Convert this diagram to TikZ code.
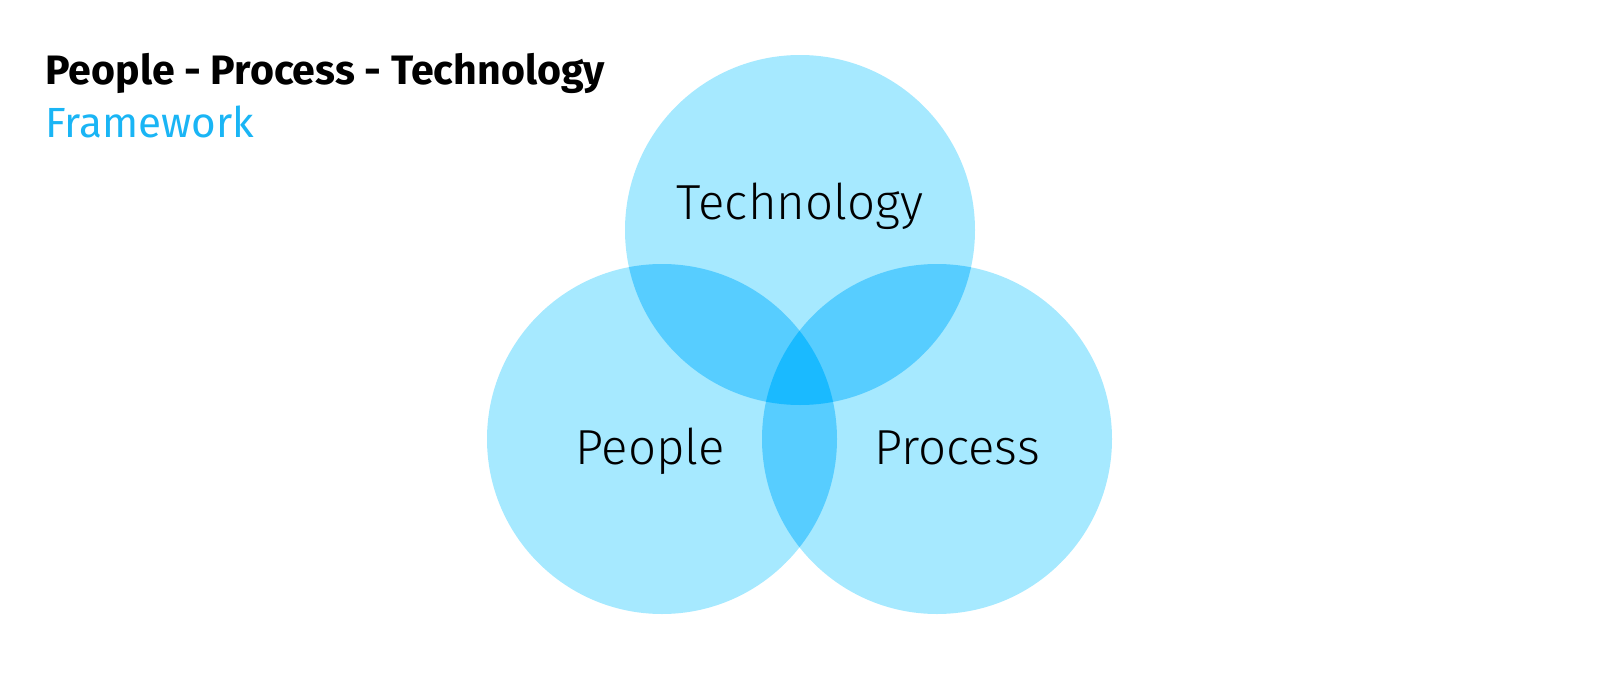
\documentclass[tikz,border=0pt]{standalone}
\usepackage{fontspec}
\setmainfont{Fira Sans}
\newfontfamily\lightfont{Fira Sans Light}
\usetikzlibrary{positioning}

\definecolor{ringlight}{HTML}{A6E9FF}
\definecolor{ringmid}{HTML}{57CDFF}
\definecolor{ringdark}{HTML}{1ABAFF}
\definecolor{titleblue}{HTML}{1AB5F5}

\tikzset{
  circlabel/.style={font=\lightfont\fontsize{28}{32}\selectfont, inner sep=0pt, anchor=base},
  titletext/.style={font=\fontsize{24}{28}\selectfont, inner sep=0pt, anchor=base west}
}

\begin{document}
\begin{tikzpicture}[x=0.02cm,y=-0.02cm]
  \useasboundingbox (0,0) rectangle (1600,700);

  %% the three rings
  \coordinate (TECH) at (800,230);
  \coordinate (PEOP) at (662,439);
  \coordinate (PROC) at (937,439);
  \def\rad{175}

  \foreach \c in {TECH,PEOP,PROC}
    \fill[ringlight] (\c) circle (\rad);

  %% pairwise overlaps
  \foreach \a/\b in {TECH/PEOP,TECH/PROC,PEOP/PROC}
  {
    \begin{scope}
      \clip (\a) circle (\rad);
      \fill[ringmid] (\b) circle (\rad);
    \end{scope}
  }

  %% middle part
  \begin{scope}
    \clip (TECH) circle (\rad);
    \clip (PEOP) circle (\rad);
    \fill[ringdark] (PROC) circle (\rad);
  \end{scope}

  %% labels
  \node[circlabel] (LTECH) at (800,219) {Technology};
  \node[circlabel] (LPEOP) at (650,464) {People};
  \node[circlabel] (LPROC) at (957,464) {Process};

  %% heading
  \node[titletext, font=\bfseries\fontsize{23.4}{28}\selectfont] (HEAD) at (45,84) {People - Process - Technology};
  \node[titletext, text=titleblue] (SUB) at (45,137) {Framework};
\end{tikzpicture}
\end{document}
